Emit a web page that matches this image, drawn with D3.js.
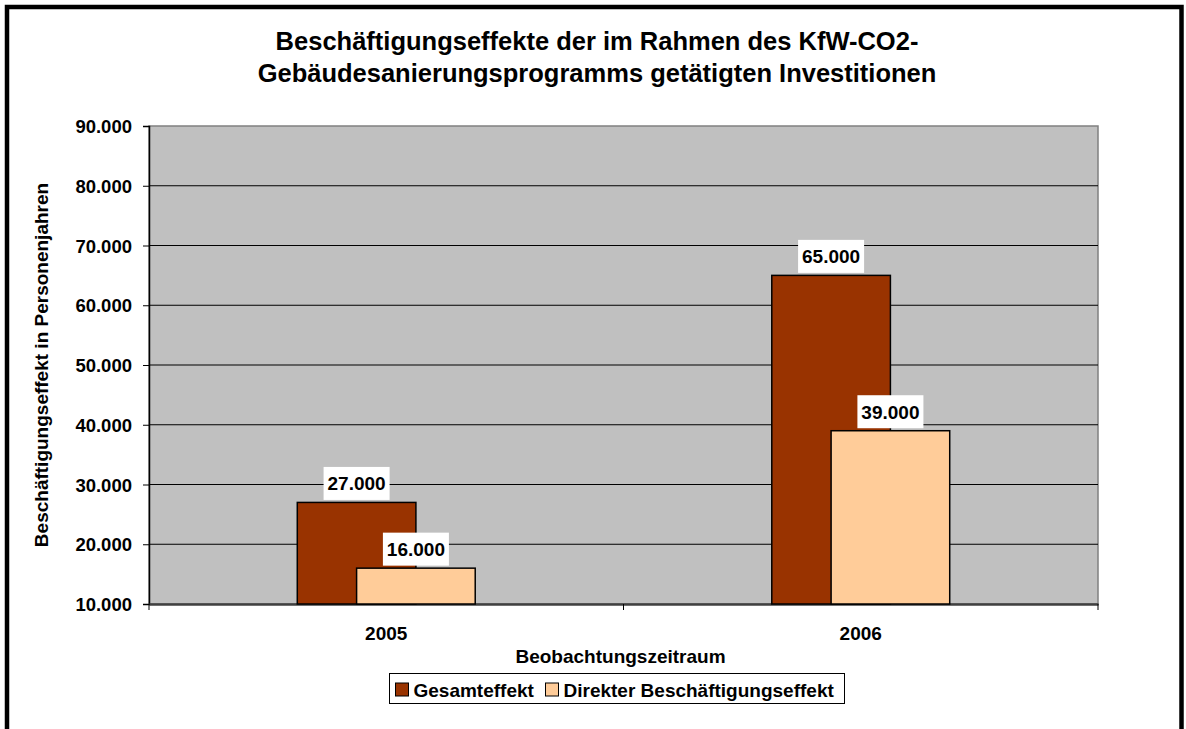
<!DOCTYPE html>
<html>
<head>
<meta charset="utf-8">
<script src="https://cdn.jsdelivr.net/npm/d3@7"></script>
<style>
  body { margin: 0; background: #fff; }
  svg text { font-family: "Liberation Sans", Arial, sans-serif; font-weight: bold; fill: #000; }
</style>
</head>
<body>
<svg id="chart" width="1186" height="729"></svg>
<script>
const categories = ['2005', '2006'];
const seriesNames = ['Gesamteffekt', 'Direkter Beschäftigungseffekt'];
const gesamt = [27000, 65000];
const direkt = [16000, 39000];
const yTicks = [10000, 20000, 30000, 40000, 50000, 60000, 70000, 80000, 90000];
const colors = ['#993300', '#FFCC99'];
const titleLines = [
  'Beschäftigungseffekte der im Rahmen des KfW-CO2-',
  'Gebäudesanierungsprogramms getätigten Investitionen'
];

const series = [gesamt, direkt];
const fmt = v => d3.format(',')(v).replace(/,/g, '.');

const svg = d3.select('#chart');
const plot = { left: 149, right: 1098, top: 126, bottom: 604 };

// outer frame
svg.append('rect')
  .attr('x', 7).attr('y', 7).attr('width', 1174.5).attr('height', 760)
  .attr('fill', '#fff').attr('stroke', '#000').attr('stroke-width', 4.5);

// title
svg.append('g').selectAll('text')
  .data(titleLines)
  .join('text')
  .attr('x', 597).attr('y', (d, i) => 50 + i * 32)
  .attr('text-anchor', 'middle')
  .style('font-size', '25.5px')
  .text(d => d);

const x = d3.scaleBand().domain(categories).range([plot.left, plot.right]).padding(0);
const y = d3.scaleLinear().domain([10000, 90000]).range([plot.bottom, plot.top]);
const barW = x.bandwidth() * 0.25;

// plot background
svg.append('rect')
  .attr('x', plot.left).attr('y', plot.top)
  .attr('width', plot.right - plot.left).attr('height', plot.bottom - plot.top)
  .attr('fill', '#C0C0C0').attr('stroke', '#808080').attr('stroke-width', 1.5);

// gridlines
svg.append('g').selectAll('line')
  .data(yTicks.filter(t => t > 10000 && t < 90000))
  .join('line')
  .attr('x1', plot.left).attr('x2', plot.right)
  .attr('y1', d => y(d)).attr('y2', d => y(d))
  .attr('stroke', '#000').attr('stroke-width', 1);

// y axis
const yAxis = svg.append('g')
  .attr('transform', `translate(${plot.left},0)`)
  .call(d3.axisLeft(y).tickValues(yTicks).tickFormat(fmt).tickSize(6).tickPadding(11));
yAxis.select('.domain').attr('stroke', '#000').attr('stroke-width', 1.5);
yAxis.selectAll('.tick line').attr('stroke', '#000');
yAxis.selectAll('.tick text').style('font-size', '18.5px').attr('dy', '0.36em');

// x axis
const xAxis = svg.append('g')
  .attr('transform', `translate(0,${plot.bottom})`)
  .call(d3.axisBottom(x).tickSize(0).tickPadding(23));
xAxis.select('.domain').attr('stroke', '#404040').attr('stroke-width', 2.5);
xAxis.selectAll('.tick text').style('font-size', '19px');
svg.append('g').selectAll('line')
  .data([plot.left, ...categories.map(c => x(c) + x.bandwidth())])
  .join('line')
  .attr('x1', d => d).attr('x2', d => d)
  .attr('y1', plot.bottom).attr('y2', plot.bottom + 6)
  .attr('stroke', '#000').attr('stroke-width', 1);

// bars
const barX = (cat, i) => x(cat) + x.bandwidth() / 2 - barW * 0.75 + i * barW / 2;
series.forEach((vals, i) => {
  svg.append('g').selectAll('rect')
    .data(categories.map((c, j) => ({ c, v: vals[j] })))
    .join('rect')
    .attr('x', d => barX(d.c, i))
    .attr('y', d => y(d.v))
    .attr('width', barW)
    .attr('height', d => y(10000) - y(d.v))
    .attr('fill', colors[i]).attr('stroke', '#000').attr('stroke-width', 1.5);
});

// data labels
series.forEach((vals, i) => {
  const g = svg.append('g').selectAll('g')
    .data(categories.map((c, j) => ({ c, v: vals[j] })))
    .join('g')
    .attr('transform', d => `translate(${barX(d.c, i) + barW / 2},${y(d.v) - 19})`);
  g.append('rect')
    .attr('x', -33).attr('y', -16.5).attr('width', 66).attr('height', 33)
    .attr('fill', '#fff');
  g.append('text')
    .attr('text-anchor', 'middle').attr('dy', '0.36em')
    .style('font-size', '19px')
    .text(d => fmt(d.v));
});

// axis titles
svg.append('text')
  .attr('x', (plot.left + plot.right) / 2 - 3).attr('y', 663)
  .attr('text-anchor', 'middle').style('font-size', '19px')
  .text('Beobachtungszeitraum');
svg.append('text')
  .attr('transform', `translate(48,${(plot.top + plot.bottom) / 2}) rotate(-90)`)
  .attr('text-anchor', 'middle').style('font-size', '19px')
  .text('Beschäftigungseffekt in Personenjahren');

// legend
const legend = svg.append('g');
legend.append('rect')
  .attr('x', 389.5).attr('y', 673.5).attr('width', 455).attr('height', 30)
  .attr('fill', '#fff').attr('stroke', '#000').attr('stroke-width', 1);
const legX = [395.5, 545.5];
seriesNames.forEach((name, i) => {
  legend.append('rect')
    .attr('x', legX[i]).attr('y', 683).attr('width', 13).attr('height', 13)
    .attr('fill', colors[i]).attr('stroke', '#000').attr('stroke-width', 1);
  legend.append('text')
    .attr('x', legX[i] + 18).attr('y', 697)
    .style('font-size', '19px')
    .text(name);
});
</script>
</body>
</html>
